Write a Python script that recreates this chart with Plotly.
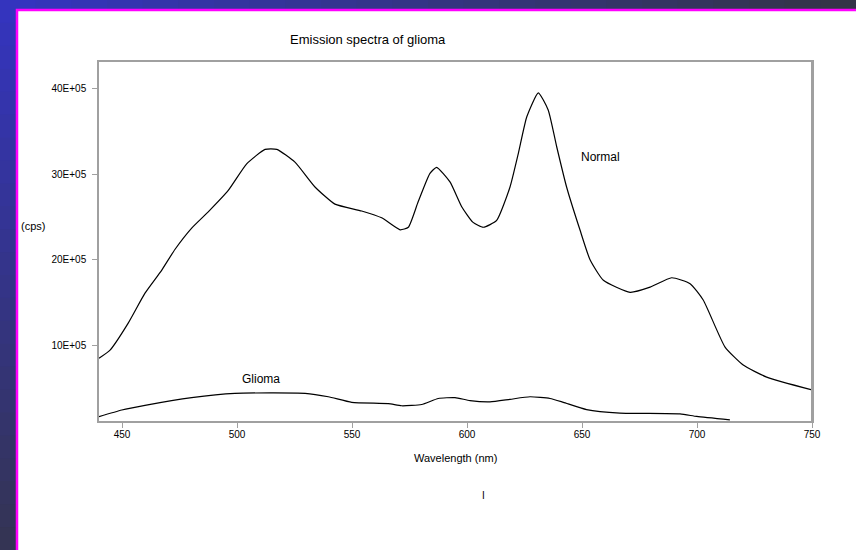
import plotly.graph_objects as go

# ---------------- data (values in units of 1E+05 cps) ----------------
normal_wl = [440, 444.8, 452.7, 460, 467.3, 473, 480.3, 487.5, 496.2, 504.2, 512.2, 517.3,
             525.2, 533.9, 542.6, 554.2, 562.9, 570.9, 574.5, 578.8, 583.9, 586.8, 592.6, 597.7,
             602.5, 607.1, 612.9, 618.7, 622.3, 626, 631, 635.3, 639, 643.3, 649.1, 653.5, 659.3,
             670.9, 679.6, 689, 697, 702.7, 712.2, 720.1, 730.3, 750]
normal_val = [0.85, 0.945, 1.26, 1.61, 1.88, 2.12, 2.37, 2.56, 2.81, 3.12, 3.29, 3.29,
              3.14, 2.85, 2.65, 2.57, 2.49, 2.35, 2.38, 2.68, 3.01, 3.08, 2.91, 2.62,
              2.44, 2.38, 2.46, 2.85, 3.24, 3.67, 3.95, 3.75, 3.32, 2.85, 2.35, 2.0, 1.76,
              1.62, 1.68, 1.79, 1.72, 1.53, 0.98, 0.77, 0.63, 0.48]

glioma_wl = [440, 449.9, 460, 480.3, 499.1, 529.6, 539.7, 549.9, 565.8, 571.6, 580.3, 587.5,
             594.8, 601.3, 610, 618.7, 627.4, 636.1, 641.9, 652, 666.5, 692.6, 699.9, 714.3]
glioma_val = [0.167, 0.245, 0.30, 0.39, 0.44, 0.44, 0.40, 0.335, 0.32, 0.295, 0.31, 0.38,
              0.39, 0.355, 0.34, 0.37, 0.40, 0.38, 0.335, 0.25, 0.21, 0.20, 0.17, 0.13]

x_ticks = [450, 500, 550, 600, 650, 700, 750]
x_ticklabels = ["450", "500", "550", "600", "650", "700", "750"]
y_ticks = [1, 2, 3, 4]
y_ticklabels = ["10E+05", "20E+05", "30E+05", "40E+05"]

# ---------------- layout geometry ----------------
W, H = 856, 550
L, R, T, B = 99, 812, 62, 421   # plot area in pixels

def px(x):
    return (x - L) / (R - L)

def py(y):
    return (B - y) / (B - T)

FONT = "Liberation Sans, Arial, sans-serif"

fig = go.Figure()
fig.add_trace(go.Scatter(x=normal_wl, y=normal_val, mode="lines",
                         line=dict(color="black", width=1.2, shape="spline", smoothing=0.5),
                         hoverinfo="x+y", showlegend=False))
fig.add_trace(go.Scatter(x=glioma_wl, y=glioma_val, mode="lines",
                         line=dict(color="black", width=1.2, shape="spline", smoothing=0.5),
                         hoverinfo="x+y", showlegend=False))

shapes = []
# gradient background strips
blue = (52, 52, 190)
dark_top = (52, 52, 72)
dark_left = (52, 52, 84)
def mix(a, b, t):
    return "rgb(%d,%d,%d)" % tuple(round(a[i] + (b[i] - a[i]) * t) for i in range(3))
N = 24
for i in range(N):
    x0 = W * i / N
    x1 = W * (i + 1) / N + 1
    shapes.append(dict(type="rect", xref="paper", yref="paper", layer="below",
                       x0=px(x0), x1=px(x1), y0=py(0), y1=py(12),
                       fillcolor=mix(blue, dark_top, i / (N - 1)), line=dict(width=0)))
for i in range(N):
    y0 = H * i / N
    y1 = H * (i + 1) / N + 1
    shapes.append(dict(type="rect", xref="paper", yref="paper", layer="below",
                       x0=px(0), x1=px(19), y0=py(y0), y1=py(y1),
                       fillcolor=mix(blue, dark_left, i / (N - 1)), line=dict(width=0)))
# white panel with magenta edge
shapes.append(dict(type="rect", xref="paper", yref="paper", layer="below",
                   x0=px(17), x1=px(W + 5), y0=py(10), y1=py(H + 5),
                   fillcolor="white", line=dict(color="#ff00ff", width=2.5)))
# thicker right border of plot
shapes.append(dict(type="line", xref="paper", yref="paper",
                   x0=1, x1=1, y0=0, y1=1, line=dict(color="#a0a0a0", width=2)))

def ann(text, x, y, size, anchor="center"):
    return dict(text=text, x=px(x), y=py(y), xref="paper", yref="paper", showarrow=False,
                xanchor=anchor, yanchor="middle",
                font=dict(family=FONT, size=size, color="black"))

annotations = [
    ann("Normal", 600, 157, 12),
    ann("Glioma", 261, 379, 12),
    ann("(cps)", 19, 226, 11, "left"),
    ann("I", 483, 495, 10),
    ann("Emission spectra of glioma", 368, 39, 13),
    ann("Wavelength (nm)", 455, 458, 11),
]

fig.update_layout(
    width=W, height=H,
    margin=dict(l=L, r=W - R, t=T, b=H - B, pad=0),
    paper_bgcolor="rgb(52,52,80)",
    plot_bgcolor="white",
    shapes=shapes,
    annotations=annotations,
    xaxis=dict(range=[440, 750], tickvals=x_ticks, ticktext=x_ticklabels,
               showgrid=False, zeroline=False, showline=True, mirror=True,
               linecolor="#a0a0a0", linewidth=1.5, ticks="outside", ticklen=5,
               ticklabelstandoff=-2,
               tickcolor="#a0a0a0", tickfont=dict(family=FONT, size=10, color="black")),
    yaxis=dict(range=[0.117, 4.31], tickvals=y_ticks, ticktext=y_ticklabels,
               showgrid=False, zeroline=False, showline=True, mirror=True,
               linecolor="#a0a0a0", linewidth=1.5, ticks="outside", ticklen=5,
               ticklabelstandoff=4,
               tickcolor="#a0a0a0", tickfont=dict(family=FONT, size=10, color="black")),
)

fig.write_html("out.html", config={"displayModeBar": False},
               post_script="document.body.style.margin='0';document.body.style.overflow='hidden';")
